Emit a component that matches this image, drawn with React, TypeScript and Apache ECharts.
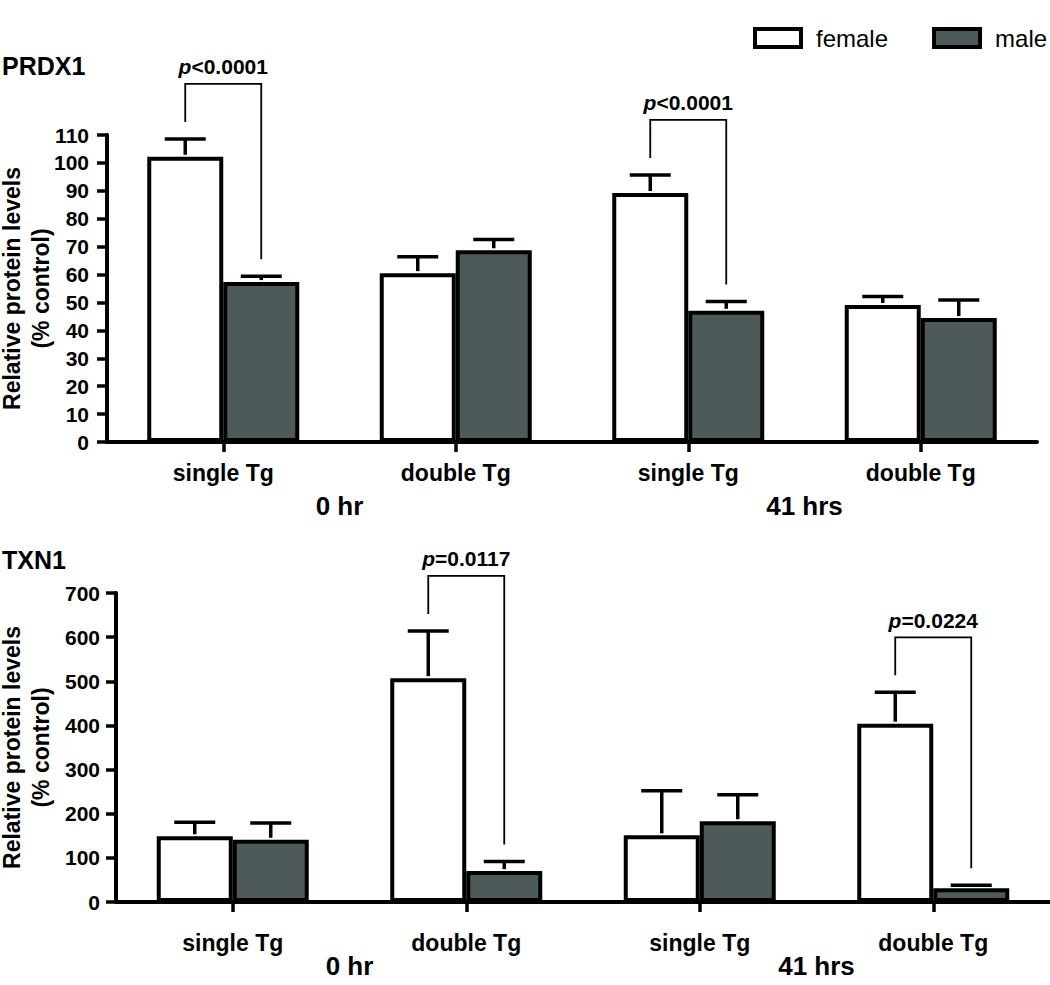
import React, { useEffect, useRef } from "react";
import * as echarts from "echarts";

const FONT = '"Liberation Sans", Arial, Helvetica, sans-serif';
const MALE_COLOR = "#4d5a59";

const CATEGORIES = ["single Tg", "double Tg", "single Tg", "double Tg"];
const TIMEPOINTS = ["0 hr", "41 hrs"];

// PRDX1 (% control)
const PRDX1_FEMALE = [102.2, 60.5, 89.2, 49.1];
const PRDX1_FEMALE_SEM = [6.4, 5.9, 6.5, 3.0];
const PRDX1_MALE = [57.3, 68.7, 47.0, 44.4];
const PRDX1_MALE_SEM = [2.1, 3.9, 3.3, 6.5];
const PRDX1_P_CATS = [0, 2];
const PRDX1_P_LABELS = ["<0.0001", "<0.0001"];

// TXN1 (% control)
const TXN1_FEMALE = [149, 507, 151, 404];
const TXN1_FEMALE_SEM = [31.5, 107, 101, 71];
const TXN1_MALE = [141, 70, 183, 31];
const TXN1_MALE_SEM = [38, 22, 60, 7];
const TXN1_P_CATS = [1, 3];
const TXN1_P_LABELS = ["=0.0117", "=0.0224"];

const BAR_WIDTH = 76;
const OFF = BAR_WIDTH / 2;

function errRenderer(side: number) {
  return (params: any, api: any) => {
    const cat = api.value(0);
    const p0 = api.coord([cat, api.value(1)]);
    const p1 = api.coord([cat, api.value(2)]);
    const x = p0[0] + side * OFF;
    const st = { stroke: "#000", lineWidth: 3.5 };
    return {
      type: "group",
      children: [
        { type: "line", shape: { x1: x, y1: p0[1] - 2, x2: x, y2: p1[1] }, style: st },
        { type: "line", shape: { x1: x - 20.5, y1: p1[1], x2: x + 20.5, y2: p1[1] }, style: st },
      ],
    };
  };
}

function bracketRenderer(labels: string[]) {
  return (params: any, api: any) => {
    const cat = api.value(0);
    const f = api.coord([cat, api.value(1)]);
    const m = api.coord([cat, api.value(2)]);
    const lx = f[0] - OFF;
    const rx = m[0] + OFF;
    const lb = f[1] - 17;
    const top = lb - 38;
    const rb = m[1] - 17;
    return {
      type: "group",
      children: [
        {
          type: "polyline",
          shape: { points: [[lx, lb], [lx, top], [rx, top], [rx, rb]] },
          style: { stroke: "#000", lineWidth: 1.8, fill: null },
        },
        {
          type: "text",
          x: (lx + rx) / 2,
          y: top - 17,
          style: {
            text: "{i|p}{b|" + labels[params.dataIndex] + "}",
            rich: {
              i: { fontStyle: "italic", fontWeight: "bold", fontSize: 21, fontFamily: FONT, fill: "#000" },
              b: { fontWeight: "bold", fontSize: 21, fontFamily: FONT, fill: "#000" },
            },
            fontSize: 21,
            fontWeight: "bold",
            fontFamily: FONT,
            fill: "#000",
            align: "center",
            verticalAlign: "middle",
          },
        },
      ],
    };
  };
}

const axisTextBold = (size: number) => ({ fontSize: size, fontWeight: "bold", color: "#000", fontFamily: FONT });

function catAxis(grid: number, margin: number) {
  return {
    gridIndex: grid,
    type: "category",
    data: CATEGORIES,
    axisLine: { show: true, lineStyle: { color: "#000", width: 4 } },
    axisTick: { show: true, alignWithLabel: true, interval: 0, length: 10, lineStyle: { color: "#000", width: 3.5 } },
    axisLabel: { interval: 0, margin, ...axisTextBold(23) },
    splitLine: { show: false },
  };
}

function timeAxis(grid: number) {
  return {
    gridIndex: grid,
    type: "category",
    data: TIMEPOINTS,
    position: "bottom",
    axisLine: { show: false },
    axisTick: { show: false },
    axisLabel: { interval: 0, margin: 51, ...axisTextBold(26) },
    splitLine: { show: false },
  };
}

function valAxis(grid: number, max: number, interval: number, labelMargin: number, nameGap: number) {
  return {
    gridIndex: grid,
    type: "value",
    min: 0,
    max,
    interval,
    splitLine: { show: false },
    axisLine: { show: true, lineStyle: { color: "#000", width: 4 } },
    axisTick: { show: true, length: 10, lineStyle: { color: "#000", width: 3.5 } },
    axisLabel: { margin: labelMargin, ...axisTextBold(21) },
    name: "Relative protein levels\n(% control)",
    nameLocation: "middle",
    nameRotate: 90,
    nameGap,
    nameMoveOverlap: false,
    nameTextStyle: { ...axisTextBold(23), lineHeight: 29, align: "center" },
  };
}

function barSeries(name: string, data: number[], x: number, y: number, color: string) {
  return {
    type: "bar",
    name,
    xAxisIndex: x,
    yAxisIndex: y,
    data,
    barWidth: BAR_WIDTH,
    barGap: "0%",
    itemStyle: { color, borderColor: "#000", borderWidth: 4 },
    silent: true,
    z: 2,
  };
}

function errSeries(vals: number[], sem: number[], x: number, y: number, side: number) {
  return {
    type: "custom",
    xAxisIndex: x,
    yAxisIndex: y,
    data: vals.map((v, i) => [i, v, v + sem[i]]),
    renderItem: errRenderer(side),
    clip: false,
    silent: true,
    z: 3,
  };
}

function bracketSeries(cats: number[], labels: string[], fv: number[], fs: number[], mv: number[], ms: number[], x: number, y: number) {
  return {
    type: "custom",
    xAxisIndex: x,
    yAxisIndex: y,
    data: cats.map((c) => [c, fv[c] + fs[c], mv[c] + ms[c]]),
    renderItem: bracketRenderer(labels),
    clip: false,
    silent: true,
    z: 4,
  };
}

export default function App() {
  const ref = useRef<HTMLDivElement>(null);
  useEffect(() => {
    document.body.style.margin = "0";
    const chart = echarts.init(ref.current as HTMLDivElement, undefined, { renderer: "svg" });
    chart.setOption({
      animation: false,
      backgroundColor: "#fff",
      title: [
        { text: "PRDX1", left: 2, top: 53, padding: 0, textStyle: axisTextBold(25) },
        { text: "TXN1", left: 2, top: 547, padding: 0, textStyle: axisTextBold(25) },
      ],
      legend: {
        data: ["female", "male"],
        orient: "horizontal",
        left: 753,
        top: 26,
        width: 340,
        padding: 0,
        itemWidth: 46,
        itemHeight: 18,
        itemGap: 44,
        icon: "rect",
        selectedMode: false,
        itemStyle: { borderWidth: 4, borderColor: "#000" },
        textStyle: { fontSize: 24, color: "#000", fontFamily: FONT, padding: [0, 0, 0, 10] },
      },
      grid: [
        { left: 107, top: 135, width: 930, height: 307, outerBoundsMode: "none", containLabel: false },
        { left: 116, top: 593, width: 934, height: 309, outerBoundsMode: "none", containLabel: false },
      ],
      xAxis: [catAxis(0, 19), timeAxis(0), catAxis(1, 29), timeAxis(1)],
      yAxis: [valAxis(0, 110, 10, 18, 52), valAxis(1, 700, 100, 16, 61)],
      series: [
        barSeries("female", PRDX1_FEMALE, 0, 0, "#ffffff"),
        barSeries("male", PRDX1_MALE, 0, 0, MALE_COLOR),
        errSeries(PRDX1_FEMALE, PRDX1_FEMALE_SEM, 0, 0, -1),
        errSeries(PRDX1_MALE, PRDX1_MALE_SEM, 0, 0, 1),
        bracketSeries(PRDX1_P_CATS, PRDX1_P_LABELS, PRDX1_FEMALE, PRDX1_FEMALE_SEM, PRDX1_MALE, PRDX1_MALE_SEM, 0, 0),
        barSeries("female", TXN1_FEMALE, 2, 1, "#ffffff"),
        barSeries("male", TXN1_MALE, 2, 1, MALE_COLOR),
        errSeries(TXN1_FEMALE, TXN1_FEMALE_SEM, 2, 1, -1),
        errSeries(TXN1_MALE, TXN1_MALE_SEM, 2, 1, 1),
        bracketSeries(TXN1_P_CATS, TXN1_P_LABELS, TXN1_FEMALE, TXN1_FEMALE_SEM, TXN1_MALE, TXN1_MALE_SEM, 2, 1),
      ],
    });
    return () => chart.dispose();
  }, []);
  return <div ref={ref} style={{ width: 1050, height: 985 }} />;
}
